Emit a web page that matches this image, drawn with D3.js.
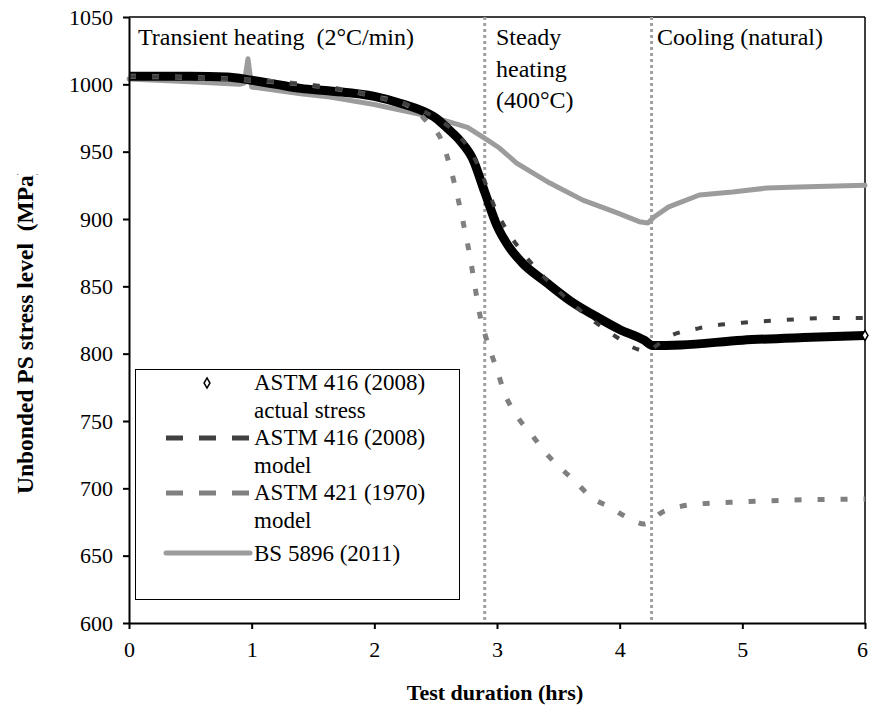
<!DOCTYPE html>
<html>
<head>
<meta charset="utf-8">
<script src="https://cdn.jsdelivr.net/npm/d3@7"></script>
<style>
  body { margin: 0; background: #fff; }
  svg { display: block; }
  text { font-family: "Liberation Serif", "Times New Roman", serif; }
  .axis path, .axis line { stroke: #000; stroke-width: 2; }
  .axis text { font-size: 22px; fill: #000; font-family: "Liberation Serif", serif; }
</style>
</head>
<body>
<svg id="chart" width="870" height="709"></svg>
<script>
// ASTM 416 (2008) actual stress
const actualHrs = [0, 0.5, 0.8, 1.0, 1.2, 1.4, 1.64, 2.0, 2.21, 2.4, 2.5, 2.6, 2.7, 2.8, 2.9, 3.0, 3.1, 3.2, 3.4, 3.6, 3.8, 4.0, 4.2, 4.27, 4.5, 5.0, 5.5, 6.0];
const actualStress = [1006, 1006, 1005.5, 1003, 1000, 997, 995, 991, 986, 980, 975, 967, 958, 945, 920, 895, 879, 868, 853, 839, 828, 818, 810, 806, 806.5, 810, 812, 813.5];

// ASTM 416 (2008) model
const model416Hrs = [0, 1, 2, 2.4, 2.6, 2.75, 2.84, 3.0, 3.12, 3.21, 3.31, 3.45, 3.72, 3.98, 4.1, 4.22, 4.3, 4.38, 4.65, 5.0, 5.25, 5.75, 6.0];
const model416 = [1006, 1003, 991, 980, 969, 955, 941, 905, 886, 875, 864, 851, 829, 812, 805, 802, 806, 811.5, 819, 823, 824.5, 826.5, 826.5];

// ASTM 421 (1970) model
const model421Hrs = [0, 1, 2, 2.3, 2.45, 2.55, 2.62, 2.68, 2.73, 2.78, 2.82, 2.86, 2.92, 3.0, 3.06, 3.16, 3.29, 3.4, 3.52, 3.65, 3.76, 3.92, 4.07, 4.2, 4.35, 4.47, 4.6, 5.0, 5.5, 6.0];
const model421 = [1006, 1003, 991, 983, 970, 958, 938, 916, 895, 872, 850, 829, 809, 788, 771, 754, 739, 726, 715, 704, 694, 686, 678, 673.5, 682.5, 686, 688, 690, 691.5, 692];

// BS 5896 (2011)
const bsHrs = [0, 0.5, 0.9, 0.94, 0.97, 1.0, 1.4, 1.64, 2.0, 2.2, 2.48, 2.76, 2.92, 3.02, 3.16, 3.43, 3.7, 3.98, 4.16, 4.23, 4.28, 4.4, 4.65, 4.92, 5.2, 5.46, 6.0];
const bsStress = [1004, 1002, 1000, 1001, 1019, 998, 993, 990.5, 985, 981, 975.7, 968, 958.7, 952.7, 941.5, 926.7, 914, 904.5, 898, 897, 901.5, 909, 917.8, 920, 923, 923.8, 925];

const phaseBounds = [2.9, 4.26];
const xTicks = [0, 1, 2, 3, 4, 5, 6];
const yTicks = [600, 650, 700, 750, 800, 850, 900, 950, 1000, 1050];

const margin = { top: 17, right: 5, bottom: 86, left: 129 };
const width = 870 - margin.left - margin.right;
const height = 709 - margin.top - margin.bottom;

const svg = d3.select("#chart");
const g = svg.append("g").attr("transform", `translate(${margin.left},${margin.top})`);

const x = d3.scaleLinear().domain([0, 6]).range([0, width]);
const y = d3.scaleLinear().domain([600, 1050]).range([height, 0]);

// plot frame (top + right)
g.append("line").attr("x1", 0).attr("x2", width).attr("y1", 0).attr("y2", 0)
  .attr("stroke", "#000").attr("stroke-width", 1.5);
g.append("line").attr("x1", width).attr("x2", width).attr("y1", 0).attr("y2", height)
  .attr("stroke", "#000").attr("stroke-width", 1.5);

// phase separators
g.selectAll(".phase").data(phaseBounds).enter().append("line")
  .attr("class", "phase")
  .attr("x1", d => x(d)).attr("x2", d => x(d))
  .attr("y1", 0).attr("y2", height)
  .attr("stroke", "#a0a0a0").attr("stroke-width", 3).attr("stroke-dasharray", "3,3");

const line = d3.line().x(d => x(d[0])).y(d => y(d[1])).curve(d3.curveMonotoneX);
const zip = (a, b) => a.map((t, i) => [t, b[i]]);

// BS 5896
g.append("path").datum(zip(bsHrs, bsStress))
  .attr("d", d3.line().x(d => x(d[0])).y(d => y(d[1]))).attr("fill", "none")
  .attr("stroke", "#9c9c9c").attr("stroke-width", 5)
  .attr("stroke-linejoin", "round").attr("stroke-linecap", "round");

// actual stress (dense diamond markers -> thick band)
g.append("path").datum(zip(actualHrs, actualStress))
  .attr("d", line).attr("fill", "none")
  .attr("stroke", "#000").attr("stroke-width", 9)
  .attr("stroke-linejoin", "round");

// ASTM 421 model
g.append("path").datum(zip(model421Hrs, model421))
  .attr("d", line).attr("fill", "none")
  .attr("stroke", "#808080").attr("stroke-width", 5)
  .attr("stroke-dasharray", "7,16");

// ASTM 416 model
g.append("path").datum(zip(model416Hrs, model416))
  .attr("d", line).attr("fill", "none")
  .attr("stroke", "#404040").attr("stroke-width", 4)
  .attr("stroke-dasharray", "7,16");

const diamond = d3.symbol().type(d3.symbolDiamond).size(30);
g.append("path").attr("d", diamond)
  .attr("transform", `translate(${x(6)},${y(actualStress[actualStress.length - 1])})`)
  .attr("fill", "#fff").attr("stroke", "#000").attr("stroke-width", 1.5);

// axes
const yAxis = d3.axisLeft(y).tickValues(yTicks).tickFormat(d3.format("d"))
  .tickSize(6).tickSizeOuter(0).tickPadding(10);
g.append("g").attr("class", "axis").attr("id", "vAxis").call(yAxis)
  .attr("font-family", "Liberation Serif, serif").attr("font-size", 22);

const xAxis = d3.axisBottom(x).tickValues(xTicks).tickFormat(d3.format("d"))
  .tickSize(6).tickSizeOuter(0).tickPadding(12);
const hAxis = g.append("g").attr("class", "axis").attr("id", "hAxis")
  .attr("transform", `translate(0,${height})`).call(xAxis)
  .attr("font-family", "Liberation Serif, serif").attr("font-size", 22);
hAxis.selectAll(".tick text").filter(d => d === 6).attr("dx", -3);

// axis titles
svg.append("text")
  .attr("x", margin.left + width / 2 - 2).attr("y", 700)
  .attr("text-anchor", "middle")
  .attr("font-size", "22px").attr("font-weight", "bold")
  .text("Test duration (hrs)");

svg.append("clipPath").attr("id", "yclip")
  .append("rect").attr("x", 0).attr("y", 174).attr("width", 60).attr("height", 400);
svg.append("g").attr("clip-path", "url(#yclip)")
  .append("text")
  .attr("transform", "translate(33,494) rotate(-90)")
  .attr("text-anchor", "start")
  .attr("font-size", "23.5px").attr("font-weight", "bold")
  .attr("xml:space", "preserve")
  .text("Unbonded PS stress level  (MPa)");

// phase annotations
const note = (tx, ty, s) => svg.append("text").attr("x", tx).attr("y", ty)
  .attr("font-size", "24px").attr("xml:space", "preserve").text(s);
note(138, 45, "Transient heating  (2°C/min)");
note(496, 45, "Steady");
note(496, 77, "heating");
note(496, 108, "(400°C)");
note(657, 45, "Cooling (natural)");

// legend
const leg = svg.append("g");
leg.append("rect").attr("x", 135.5).attr("y", 369.5).attr("width", 324).attr("height", 230)
  .attr("fill", "#fff").attr("stroke", "#000").attr("stroke-width", 1);

leg.append("path").attr("d", diamond).attr("transform", "translate(207,383)")
  .attr("fill", "#fff").attr("stroke", "#000").attr("stroke-width", 1.5);
leg.append("line").attr("x1", 166).attr("x2", 250).attr("y1", 438).attr("y2", 438)
  .attr("stroke", "#404040").attr("stroke-width", 5).attr("stroke-dasharray", "17,16");
leg.append("line").attr("x1", 166).attr("x2", 250).attr("y1", 493).attr("y2", 493)
  .attr("stroke", "#808080").attr("stroke-width", 5).attr("stroke-dasharray", "17,16");
leg.append("line").attr("x1", 166).attr("x2", 250).attr("y1", 553).attr("y2", 553)
  .attr("stroke", "#9c9c9c").attr("stroke-width", 5).attr("stroke-linecap", "round");

const legText = [
  ["ASTM 416 (2008)", 390], ["actual stress", 418],
  ["ASTM 416 (2008)", 445], ["model", 473],
  ["ASTM 421 (1970)", 500], ["model", 528],
  ["BS 5896 (2011)", 561]
];
leg.selectAll(".lt").data(legText).enter().append("text")
  .attr("class", "lt")
  .attr("x", 254).attr("y", d => d[1])
  .attr("font-size", "23px")
  .text(d => d[0]);
</script>
</body>
</html>
